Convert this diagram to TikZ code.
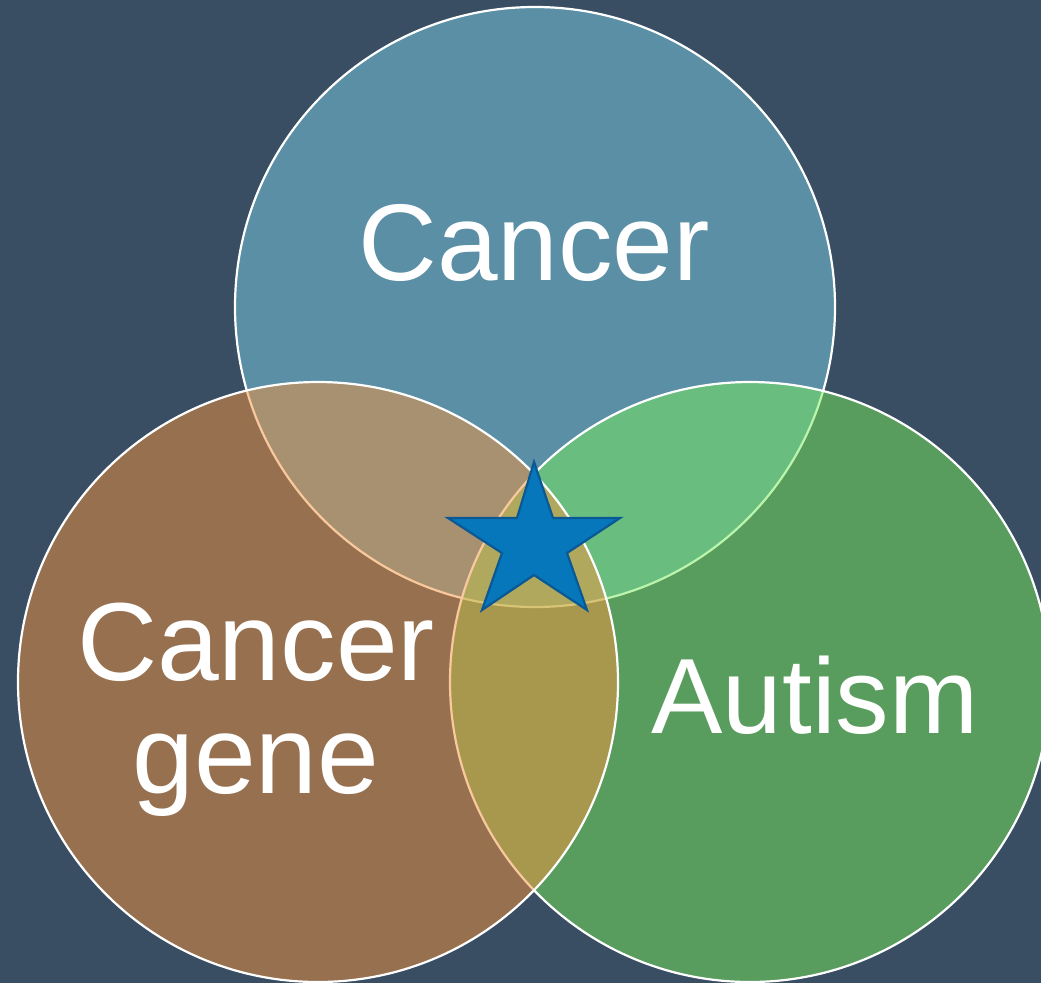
\documentclass[tikz,border=0pt]{standalone}
\usepackage{fontspec}
\setmainfont{Liberation Sans}
\definecolor{bgc}{RGB}{57,78,99}
\definecolor{topc}{RGB}{123,208,231}
\definecolor{rightc}{RGB}{121,236,91}
\definecolor{leftc}{RGB}{245,148,61}
\definecolor{starfill}{RGB}{7,119,188}
\definecolor{starline}{RGB}{10,88,148}
\begin{document}
\begin{tikzpicture}[x=1pt,y=-1pt,
  venn/.style={fill opacity=0.5, draw=white, line width=2.2pt},
  lbl/.style={text=white, inner sep=0pt, anchor=base}]
\useasboundingbox (0,0) rectangle (1041,983);
\fill[bgc] (0,0) rectangle (1041,983);
\begin{scope}
\clip (0,0) rectangle (1041,983);
\filldraw[venn, fill=topc] (535,307) circle[radius=300];
\filldraw[venn, fill=rightc] (750,682) circle[radius=300];
\filldraw[venn, fill=leftc] (318,682) circle[radius=300];
\end{scope}
\node[lbl, font=\fontsize{109}{113}\selectfont] (cancer) at (534,280) {Cancer};
\node[lbl, font=\fontsize{111}{113}\selectfont, align=center] (gene) at (256,793) {Cancer\\gene};
\node[lbl, font=\fontsize{107}{113}\selectfont] (autism) at (815,733) {Autism};
\draw[fill=starfill, draw=starline, line width=2.2pt, line join=miter]
  (534,462) -- (553,518) -- (620,518) -- (567,553) -- (587,610) --
  (534,575) -- (482,610) -- (502,553) -- (448,518) -- (517,518) -- cycle;
\end{tikzpicture}
\end{document}
